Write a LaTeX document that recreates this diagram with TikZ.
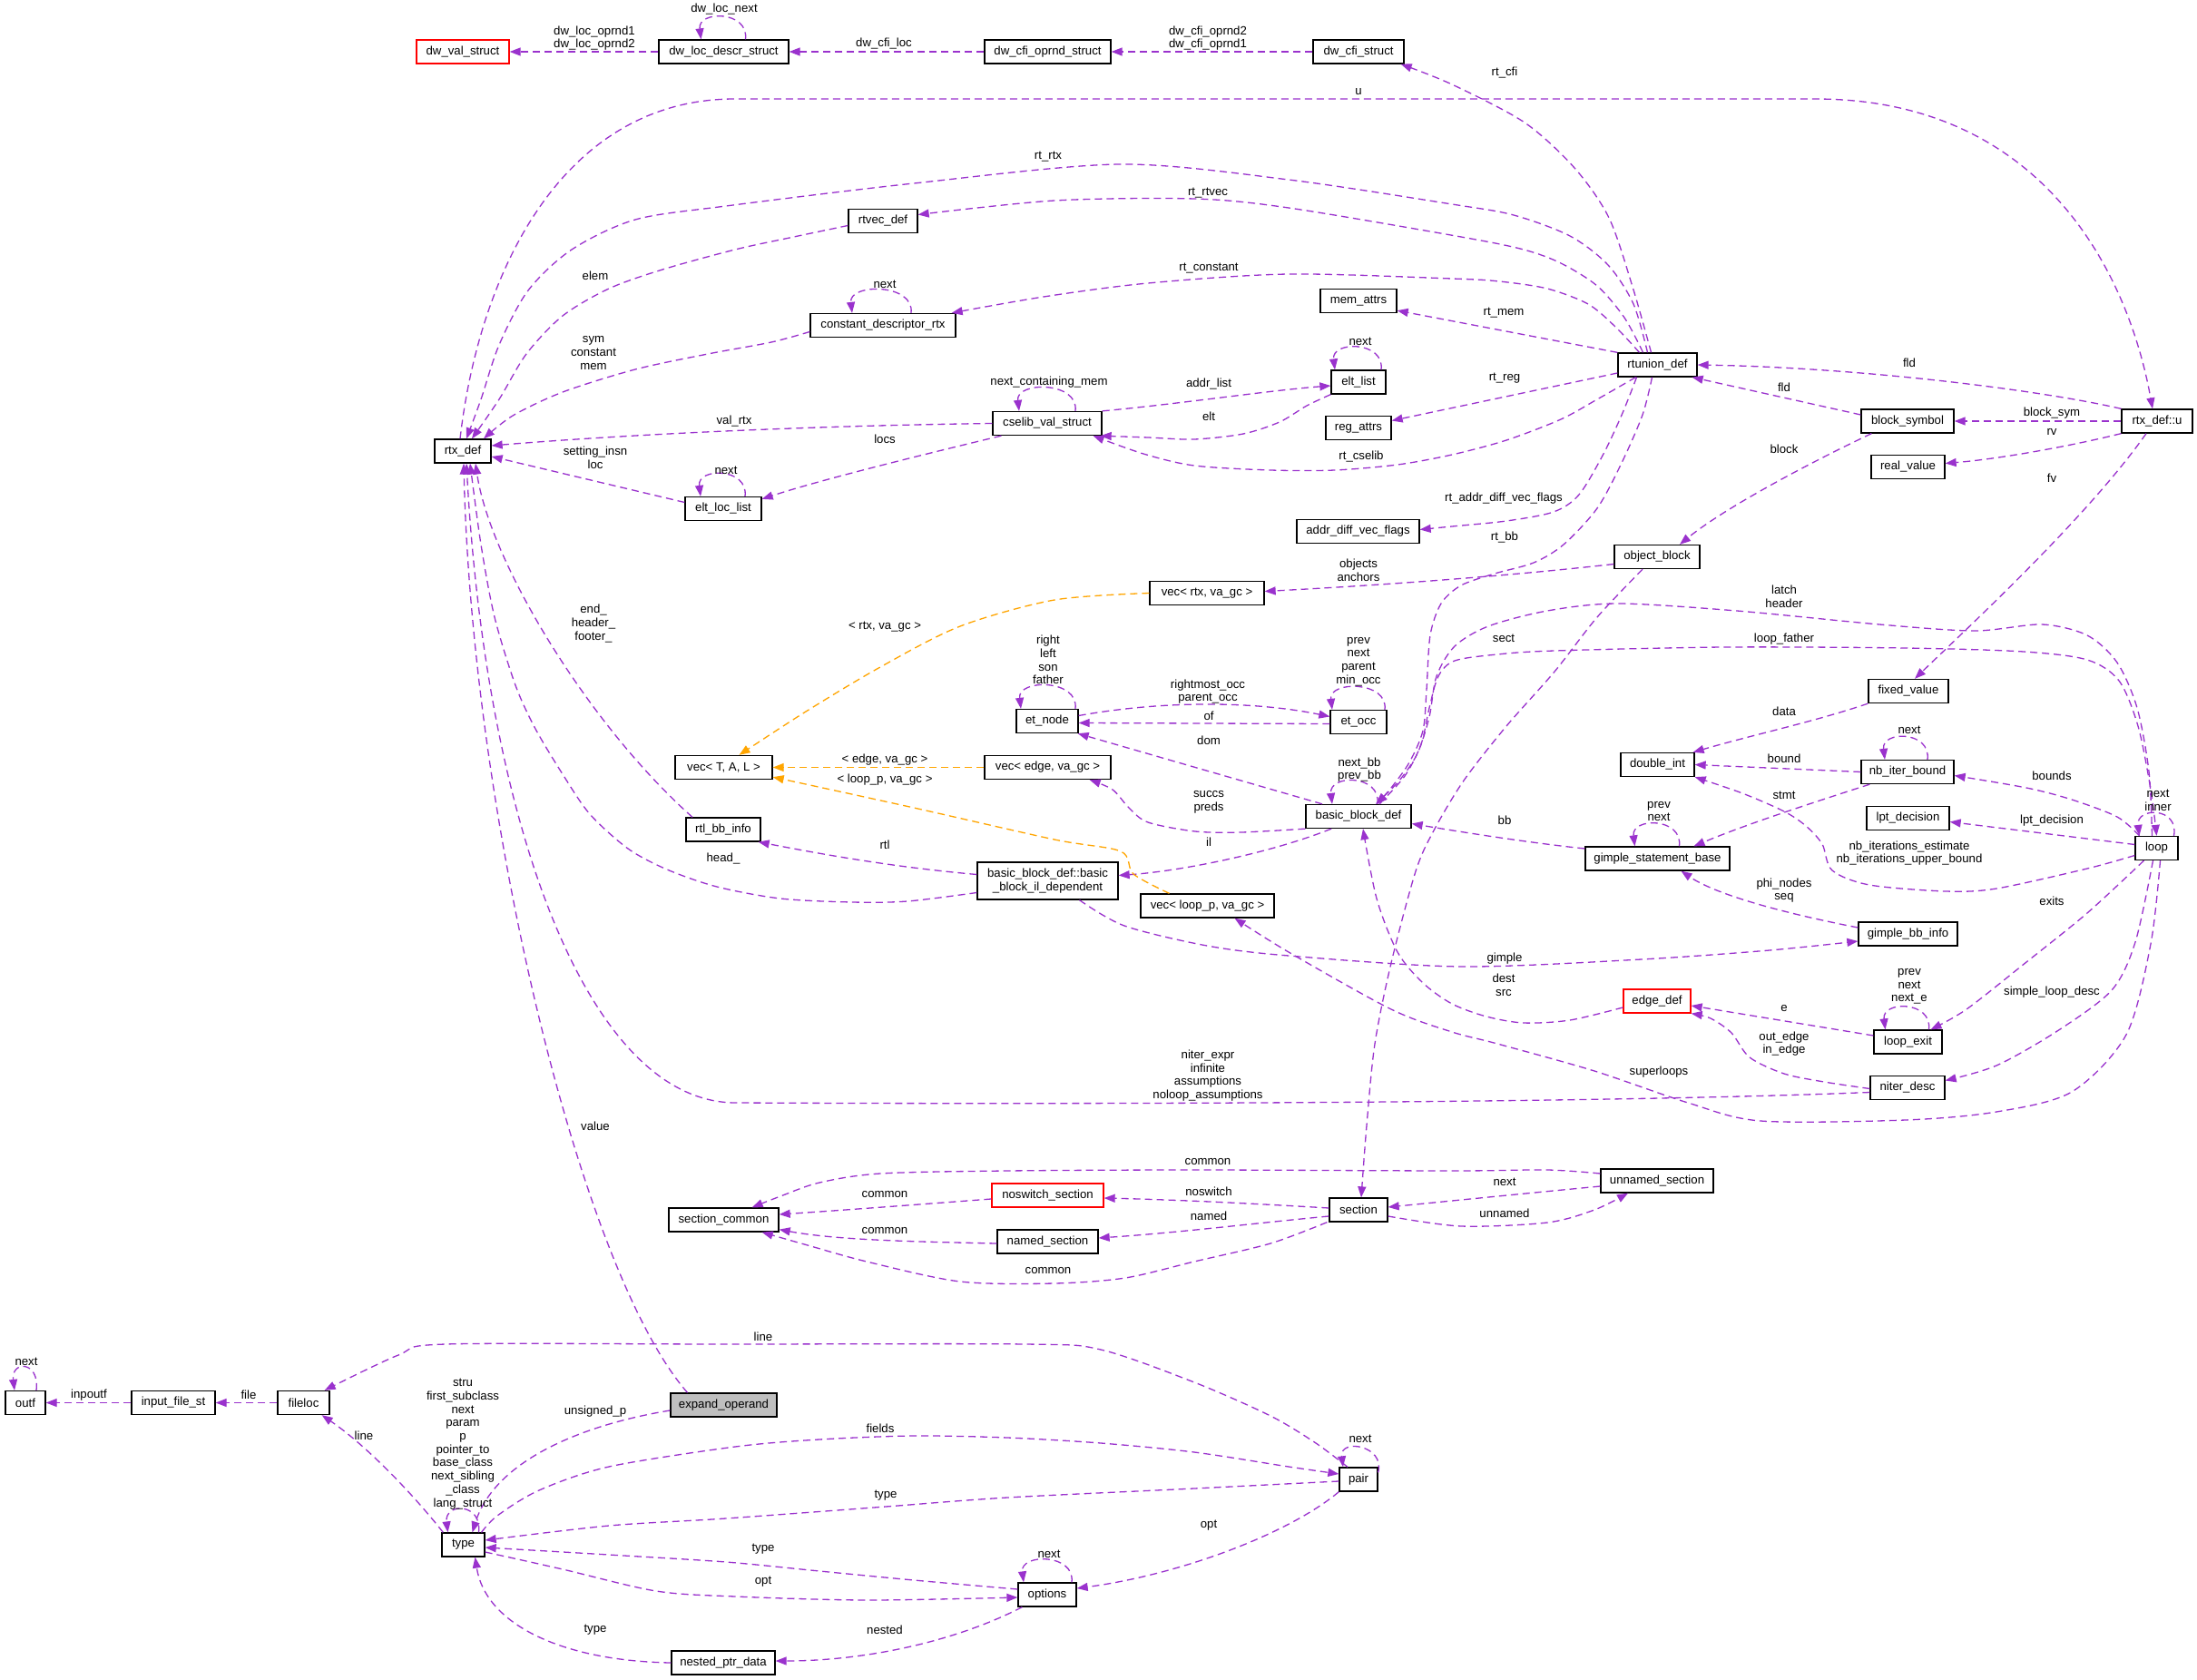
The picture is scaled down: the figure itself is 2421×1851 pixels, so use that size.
\documentclass[tikz,border=0pt]{standalone}
\usepackage{fontspec}
\setmainfont{Liberation Sans}
\usetikzlibrary{arrows.meta}
\definecolor{pc}{HTML}{9A32CD}
\definecolor{oc}{HTML}{FFA500}
\definecolor{gf}{HTML}{BFBFBF}
\begin{document}
\begin{tikzpicture}[x=1pt,y=-1pt,
  every node/.style={font=\fontsize{13.2}{14.7}\selectfont},
  nd/.style={draw=black, line width=1.3pt, fill=white, minimum height=26, inner xsep=2, inner ysep=0, align=center},
  rnd/.style={nd, draw=red},
  gnd/.style={nd, fill=gf},
  lbl/.style={inner sep=0, align=center},
  cn/.style={draw=pc, line width=1.3pt, dash pattern=on 8pt off 5pt, -{Triangle[length=12pt,width=9pt]}},
  tm/.style={cn, draw=oc}]
\useasboundingbox[fill=white] (0,0) rectangle (2421,1851);

% ---------------- nodes
\node[rnd, minimum width=102] (dwval) at (510,57) {dw\_val\_struct};
\node[nd, minimum width=143] (dwloc) at (797.5,57) {dw\_loc\_descr\_struct};
\node[nd, minimum width=139] (dwcfio) at (1154.5,57) {dw\_cfi\_oprnd\_struct};
\node[nd, minimum width=100] (dwcfis) at (1497,57) {dw\_cfi\_struct};
\node[nd, minimum width=62] (rtx) at (510,497) {rtx\_def};
\node[nd, minimum width=76] (rtvec) at (973,243.5) {rtvec\_def};
\node[nd, minimum width=160] (cdr) at (973,358.5) {constant\_descriptor\_rtx};
\node[nd, minimum width=84] (mem) at (1497,331.5) {mem\_attrs};
\node[nd, minimum width=60] (eltlist) at (1497,421) {elt\_list};
\node[nd, minimum width=120] (cselib) at (1154,466.5) {cselib\_val\_struct};
\node[nd, minimum width=72] (reg) at (1497,471.5) {reg\_attrs};
\node[nd, minimum width=84] (eltloc) at (797,560.5) {elt\_loc\_list};
\node[nd, minimum width=135] (addr) at (1496.5,585.5) {addr\_diff\_vec\_flags};
\node[nd, minimum width=87] (rtunion) at (1826.5,402) {rtunion\_def};
\node[nd, minimum width=102] (blocksym) at (2102,464) {block\_symbol};
\node[nd, minimum width=78] (rtxu) at (2377,464) {rtx\_def::u};
\node[nd, minimum width=81] (realv) at (2102.5,514.5) {real\_value};
\node[nd, minimum width=94] (objblock) at (1826,613.5) {object\_block};
\node[nd, minimum width=126] (vecrtx) at (1330,653.5) {vec< rtx, va\_gc >};
\node[nd, minimum width=68] (etnode) at (1154,794.5) {et\_node};
\node[nd, minimum width=62] (etocc) at (1497,795.5) {et\_occ};
\node[nd, minimum width=107] (vectal) at (797.5,845.5) {vec< T, A, L >};
\node[nd, minimum width=139] (vecedge) at (1154.5,845.5) {vec< edge, va\_gc >};
\node[nd, minimum width=116] (bbd) at (1497,899.5) {basic\_block\_def};
\node[nd, minimum width=82] (rtlbb) at (797,914) {rtl\_bb\_info};
\node[nd, minimum width=155, minimum height=41] (ild) at (1154.5,970.5) {basic\_block\_def::basic\\\_block\_il\_dependent};
\node[nd, minimum width=147] (vecloop) at (1330.5,998) {vec< loop\_p, va\_gc >};
\node[nd, minimum width=88] (fixed) at (2103,761.5) {fixed\_value};
\node[nd, minimum width=81] (dint) at (1826.5,842.5) {double\_int};
\node[nd, minimum width=102] (nib) at (2102,850.5) {nb\_iter\_bound};
\node[nd, minimum width=91] (lpt) at (2102.5,901.5) {lpt\_decision};
\node[nd, minimum width=47] (loop) at (2376.5,934.5) {loop};
\node[nd, minimum width=159] (gsb) at (1826.5,946) {gimple\_statement\_base};
\node[nd, minimum width=109] (gbbi) at (2102.5,1029) {gimple\_bb\_info};
\node[rnd, minimum width=74] (edgedef) at (1826,1103) {edge\_def};
\node[nd, minimum width=75] (loopexit) at (2102.5,1148) {loop\_exit};
\node[nd, minimum width=82] (niterd) at (2102,1198.5) {niter\_desc};
\node[nd, minimum width=121] (seccom) at (797.5,1344) {section\_common};
\node[rnd, minimum width=123] (noswitch) at (1154.5,1317) {noswitch\_section};
\node[nd, minimum width=111] (named) at (1154.5,1368) {named\_section};
\node[nd, minimum width=64] (section) at (1497,1333) {section};
\node[nd, minimum width=124] (unnamed) at (1826,1301) {unnamed\_section};
\node[gnd, minimum width=117] (expand) at (797.5,1548) {expand\_operand};
\node[nd, minimum width=44] (outf) at (28,1545.5) {outf};
\node[nd, minimum width=92] (inputf) at (191,1545.5) {input\_file\_st};
\node[nd, minimum width=57] (fileloc) at (334.5,1545.5) {fileloc};
\node[nd, minimum width=47] (type) at (510.5,1702) {type};
\node[nd, minimum width=42] (pair) at (1497,1630) {pair};
\node[nd, minimum width=64] (options) at (1154,1757) {options};
\node[nd, minimum width=114] (nested) at (797,1832) {nested\_ptr\_data};

% ---------------- top row
\draw[cn] (dwloc.west) -- (dwval.east);
\draw[cn] (dwcfio.west) -- (dwloc.east);
\draw[cn] (dwcfis.west) -- (dwcfio.east);
\draw[cn] ([xshift=24]dwloc.north) .. controls +(4,-32) and +(-4,-32) .. ([xshift=-25]dwloc.north);
\draw[cn] plot[smooth] coordinates {([xshift=-7]rtunion.north) (1799,316) (1773,240) (1735,185) (1680,135) (1600,93) ([xshift=-4]dwcfis.south east)};

% ---------------- rtx_def fan
\draw[cn] ([xshift=-3]rtx.north) .. controls (528,300) and (620,109) .. (810,109) -- (2000,109) .. controls (2250,109) and (2345,300) .. ([xshift=-5]rtxu.north);
\draw[cn] plot[smooth] coordinates {([xshift=-11]rtunion.north) (1800,335) (1772,292) (1730,260) (1668,237) (1600,225) (1420,198) (1234,181) (1007,202) (800,227) (700,242) (630,275) (582,320) (550,380) (530,440) ([xshift=4]rtx.north)};
\draw[cn] plot[smooth] coordinates {([xshift=-16]rtunion.north) (1790,350) (1760,315) (1720,290) (1679,275) (1610,261) (1420,229) (1316,219) (1162,221) ([yshift=7]rtvec.east)};
\draw[cn] plot[smooth] coordinates {([xshift=-20]rtunion.north) (1780,360) (1750,335) (1705,318) (1652,310) (1600,307) (1420,302) (1265,312) (1150,327) ([xshift=-5]cdr.north east)};
\draw[cn] plot[smooth] coordinates {([yshift=-5]rtvec.west) (870,262) (810,275) (730,297) (671,318) (620,348) (580,390) (550,440) ([xshift=10]rtx.north)};
\draw[cn] ([xshift=31]cdr.north) .. controls +(4,-33) and +(-4,-33) .. ([xshift=-34]cdr.north);
\draw[cn] plot[smooth] coordinates {([yshift=-7]cdr.west) (850,377) (780,390) (700,407) (620,432) (565,458) ([xshift=23]rtx.north)};
\draw[cn] (rtunion.north west) -- ([yshift=3]mem.south east);
\draw[cn] ([xshift=25]eltlist.north) .. controls +(4,-32) and +(-4,-32) .. ([xshift=-26]eltlist.north);
\draw[cn] (cselib.north east) .. controls (1300,445) and (1400,430) .. ([yshift=-4]eltlist.west);
\draw[cn] plot[smooth] coordinates {(eltlist.south west) (1440,447) (1410,465) (1370,478) (1316,484) (1265,482) ([xshift=-2]cselib.south east)};
\draw[cn] ([xshift=31]cselib.north) .. controls +(4,-33) and +(-4,-33) .. ([xshift=-31]cselib.north);
\draw[cn] (cselib.west) .. controls (900,469) and (700,478) .. ([yshift=6]rtx.east);
\draw[cn] ([yshift=-9]rtunion.west) -- ([yshift=8]reg.east);
\draw[cn] plot[smooth] coordinates {([xshift=-24]rtunion.south) (1760,440) (1720,462) (1660,485) (1600,501) (1540,512) (1471,518) (1400,518) (1316,513) (1260,500) ([xshift=-10]cselib.south east)};
\draw[cn] ([xshift=10]cselib.south west) .. controls (1000,505) and (900,530) .. ([yshift=-3]eltloc.north east);
\draw[cn] ([xshift=24]eltloc.north) .. controls +(4,-32) and +(-4,-32) .. ([xshift=-25]eltloc.north);
\draw[cn] ([yshift=7]eltloc.west) -- ([yshift=-6]rtx.east);
\draw[cn] plot[smooth] coordinates {([xshift=-23]rtunion.south) (1788,455) (1767,500) (1740,545) (1712,564) (1660,574) (1600,580) ([yshift=2]addr.east)};
\draw[cn] plot[smooth] coordinates {([xshift=-6]rtunion.south) (1810,457) (1787,510) (1760,560) (1723,600) (1690,620) (1647,632) (1610,645) (1588,665) (1576,700) (1572,760) (1568,805) (1553,840) (1533,868) ([xshift=20]bbd.north)};

% ---------------- rtx_def::u
\draw[cn] (rtxu.north west) .. controls (2250,430) and (2050,405) .. (rtunion.east);
\draw[cn] ([yshift=7]blocksym.west) -- ([xshift=-6]rtunion.south east);
\draw[cn] (rtxu.west) -- (blocksym.east);
\draw[cn] (rtxu.south west) .. controls (2280,492) and (2200,506) .. ([yshift=4]realv.east);
\draw[cn] ([xshift=-12]rtxu.south) .. controls (2300,570) and (2170,690) .. ([xshift=7]fixed.north);
\draw[cn] ([xshift=12]blocksym.south west) .. controls (1990,512) and (1900,560) .. ([xshift=25]objblock.north);
\draw[cn] ([yshift=-8]objblock.west) .. controls (1650,636) and (1500,646) .. ([yshift=2]vecrtx.east);
\draw[cn] plot[smooth] coordinates {([xshift=-16]objblock.south) (1760,680) (1713,740) (1660,800) (1613,860) (1580,915) (1560,960) (1533,1061) (1515,1150) (1506,1240) ([xshift=3]section.north)};

% ---------------- basic_block_def / loop
\draw[cn] plot[smooth] coordinates {([xshift=-5]loop.north) (2368,850) (2355,780) (2333,730) (2300,700) (2250,688) (2176,695) (2071,688) (1914,673) (1783,665) (1705,673) (1640,690) (1603,712) (1583,745) (1575,790) (1562,830) (1542,860) ([xshift=19]bbd.north)};
\draw[cn] plot[smooth] coordinates {([xshift=23]bbd.north) (1548,855) (1566,820) (1575,780) (1585,745) (1603,728) (1650,721) (1713,717) (1900,713) (2100,714) (2230,718) (2300,727) (2335,750) (2356,800) (2370,870) (loop.north)};
\draw[cn] ([yshift=11]gsb.west) .. controls (1680,928) and (1600,915) .. ([yshift=-8]bbd.east);
\draw[cn] plot[smooth] coordinates {([yshift=-7]edgedef.west) (1730,1124) (1679,1127) (1638,1120) (1600,1106) (1568,1083) (1540,1049) (1517,990) ([xshift=5]bbd.south)};
\draw[cn] ([xshift=-40]bbd.north) -- ([xshift=-1]etnode.south east);
\draw[cn] ([xshift=21]bbd.north) .. controls +(4,-33) and +(-4,-33) .. ([xshift=-29]bbd.north);
\draw[cn] plot[smooth] coordinates {(bbd.south west) (1368,917) (1317,916) (1265,906) (1244,890) (1226,870) ([xshift=-24]vecedge.south east)};
\draw[cn] ([xshift=-30]bbd.south) .. controls (1400,940) and (1300,960) .. ([yshift=6]ild.east);
\draw[cn] ([yshift=6]etnode.east) .. controls (1280,772) and (1380,772) .. ([yshift=6]etocc.west);
\draw[cn] ([yshift=-2]etocc.west) -- ([yshift=-2]etnode.east);
\draw[cn] ([xshift=31]etnode.north) .. controls +(4,-33) and +(-4,-33) .. ([xshift=-29]etnode.north);
\draw[cn] ([xshift=29]etocc.north) .. controls +(4,-32) and +(-4,-32) .. ([xshift=-29]etocc.north);

% templates
\draw[tm] plot[smooth] coordinates {(vecrtx.west) (1162,661) (1058,690) (970,735) (888,784) ([xshift=17]vectal.north)};
\draw[tm] (vecedge.west) -- (vectal.east);
\draw[tm] plot[smooth] coordinates {([xshift=-42]vecloop.north) (1249,963) (1235,938) (1162,925) (1007,890) ([yshift=3]vectal.south east)};

% il_dependent and rtx bottom
\draw[cn] ([yshift=7]ild.west) .. controls (980,955) and (900,940) .. ([xshift=-3]rtlbb.south east);
\draw[cn] ([xshift=-34]rtlbb.north) .. controls (650,800) and (540,620) .. ([xshift=14]rtx.south);
\draw[cn] plot[smooth] coordinates {([yshift=-13]ild.west) (1000,993) (939,994) (860,990) (790,977) (735,958) (692,935) (650,897) (620,853) (590,803) (568,755) (545,680) (530,600) ([xshift=8]rtx.south)};
\draw[cn] ([yshift=-5]niterd.west) .. controls (1700,1218) and (1000,1216) .. (810,1215) .. controls (645,1214) and (535,900) .. ([xshift=4]rtx.south);
\draw[cn] ([xshift=-40]expand.north) .. controls (640,1400) and (520,900) .. ([xshift=1]rtx.south);
\draw[cn] plot[smooth] coordinates {([xshift=35]ild.south) (1239,1020) (1330,1042) (1420,1053) (1610,1065) (1809,1057) (1950,1047) ([yshift=-8]gbbi.west)};

% gimple / loop right side
\draw[cn] ([yshift=7]gbbi.west) .. controls (1960,1005) and (1890,985) .. ([xshift=26]gsb.south);
\draw[cn] ([xshift=24]gsb.north) .. controls +(4,-32) and +(-4,-32) .. ([xshift=-25]gsb.north);
\draw[cn] ([xshift=10]nib.south west) .. controls (1980,890) and (1920,910) .. ([xshift=40]gsb.north);
\draw[cn] (fixed.south west) .. controls (2000,795) and (1930,810) .. ([xshift=-2]dint.north east);
\draw[cn] (nib.west) -- (dint.east);
\draw[cn] ([xshift=22]nib.north) .. controls +(4,-32) and +(-4,-32) .. ([xshift=-25]nib.north);
\draw[cn] plot[smooth] coordinates {([xshift=-19]loop.north) (2333,900) (2283,881) (2233,868) ([yshift=-4]nib.east)};
\draw[cn] ([yshift=4]loop.west) -- ([yshift=-4]lpt.east);
\draw[cn] plot[smooth] coordinates {([yshift=-8]loop.west) (2300,957) (2200,979) (2144,982) (2060,975) (2019,959) (2008,930) (1990,910) (1966,894) (1920,874) (dint.south east)};
\draw[cn] ([xshift=19]loop.north) .. controls +(6,-32) and +(-4,-32) .. ([xshift=-19]loop.north);
\draw[cn] plot[smooth] coordinates {([xshift=-14]loop.south) (2300,1006) (2233,1060) (2167,1112) ([xshift=25]loopexit.north)};
\draw[cn] plot[smooth] coordinates {([xshift=-4]loop.south) (2353,1038) (2327,1091) (2267,1136) (2200,1174) ([yshift=8]niterd.east)};
\draw[cn] plot[smooth] coordinates {([xshift=4]loop.south) (2370,1040) (2343,1140) (2283,1203) (2200,1225) (2100,1234) (1940,1235) (1860,1215) (1757,1180) (1650,1150) (1600,1137) (1533,1112) (1420,1049) ([xshift=30]vecloop.south)};
\draw[cn] ([xshift=23]loopexit.north) .. controls +(4,-32) and +(-4,-32) .. ([xshift=-25]loopexit.north);
\draw[cn] ([yshift=7]loopexit.west) -- ([yshift=-5]edgedef.east);
\draw[cn] plot[smooth] coordinates {([yshift=-1]niterd.west) (2010,1192) (1966,1183) (1928,1165) (1908,1138) (1885,1122) (edgedef.south east)};

% sections
\draw[cn] ([yshift=2]section.west) .. controls (1380,1326) and (1300,1322) .. ([yshift=-3]noswitch.east);
\draw[cn] ([yshift=-7]section.west) .. controls (1380,1348) and (1300,1358) .. ([yshift=4]named.east);
\draw[cn] plot[smooth] coordinates {([xshift=-2]section.south west) (1400,1370) (1316,1390) (1240,1408) (1162,1414) (1058,1412) (955,1390) (890,1372) ([xshift=-19]seccom.south east)};
\draw[cn] ([yshift=-2]named.west) .. controls (1000,1368) and (920,1366) .. ([yshift=3]seccom.south east);
\draw[cn] ([yshift=-4]noswitch.west) .. controls (1000,1328) and (920,1334) .. ([yshift=6]seccom.east);
\draw[cn] plot[smooth] coordinates {([yshift=-7]section.east) (1610,1351) (1705,1347) (1757,1333) ([xshift=-32]unnamed.south)};
\draw[cn] ([yshift=-6]unnamed.west) .. controls (1680,1315) and (1600,1323) .. ([yshift=3]section.east);
\draw[cn] plot[smooth] coordinates {([yshift=8]unnamed.west) (1705,1289) (1600,1290) (1316,1289) (1110,1290) (970,1293) (903,1303) (860,1318) ([xshift=-30]seccom.north east)};

% bottom
\draw[cn] plot[smooth] coordinates {([xshift=-12]pair.north) (1450,1590) (1400,1560) (1316,1523) (1213,1487) (1130,1481) (800,1481) (491,1481) (439,1493) ([xshift=-6]fileloc.north east)};
\draw[cn] plot[smooth] coordinates {([xshift=20]type.north) (548,1670) (594,1642) (671,1616) (810,1594) (903,1586) (1007,1582) (1110,1584) (1213,1590) (1316,1600) (1420,1616) ([yshift=6]pair.west)};
\draw[cn] plot[smooth] coordinates {([yshift=-2]pair.west) (1316,1640) (1110,1650) (976,1660) (800,1673) (671,1681) ([yshift=5]type.east)};
\draw[cn] plot[smooth] coordinates {([yshift=6]options.west) (1007,1741) (903,1731) (800,1721) (671,1713) ([yshift=-3]type.east)};
\draw[cn] plot[smooth] coordinates {([yshift=-8]type.east) (620,1729) (723,1753) (810,1759) (955,1763) ([yshift=-3]options.west)};
\draw[cn] ([xshift=27]options.north) .. controls +(4,-32) and +(-4,-32) .. ([xshift=-26]options.north);
\draw[cn] (pair.south west) .. controls (1420,1690) and (1300,1735) .. ([yshift=7]options.east);
\draw[cn] ([yshift=-6]pair.north east) .. controls +(8,-30) and +(-4,-32) .. ([xshift=-17]pair.north);
\draw[cn] ([xshift=5]options.south west) .. controls (1050,1810) and (950,1830) .. ([yshift=2]nested.east);
\draw[cn] (nested.west) .. controls (620,1830) and (535,1790) .. ([xshift=13]type.south);
\draw[cn] ([xshift=2]type.north west) .. controls (450,1640) and (400,1590) .. ([xshift=-9]fileloc.south east);
\draw[cn] ([xshift=17]type.north) .. controls +(4,-33) and +(-4,-33) .. ([xshift=-17]type.north);
\draw[cn] ([yshift=-6]expand.west) .. controls (640,1570) and (545,1610) .. ([xshift=10]type.north);
\draw[cn] (fileloc.west) -- (inputf.east);
\draw[cn] (inputf.west) -- (outf.east);
\draw[cn] ([xshift=12]outf.north) .. controls +(4,-33) and +(-4,-33) .. ([xshift=-12]outf.north);

% ---------------- labels
\node[lbl] (l1) at (655,42) {dw\_loc\_oprnd1\\dw\_loc\_oprnd2};
\node[lbl] (l2) at (798,10) {dw\_loc\_next};
\node[lbl] (l3) at (974,48) {dw\_cfi\_loc};
\node[lbl] (l4) at (1331,42) {dw\_cfi\_oprnd2\\dw\_cfi\_oprnd1};
\node[lbl] (l5) at (1658,80) {rt\_cfi};
\node[lbl] (l6) at (1497,101) {u};
\node[lbl] (l7) at (1155,173) {rt\_rtx};
\node[lbl] (l8) at (1331,213) {rt\_rtvec};
\node[lbl] (l9) at (656,304) {elem};
\node[lbl] (l10) at (1332,296) {rt\_constant};
\node[lbl] (l11) at (975,313) {next};
\node[lbl] (l12) at (654,389) {sym\\constant\\mem};
\node[lbl] (l13) at (1657,345) {rt\_mem};
\node[lbl] (l14) at (1499,376) {next};
\node[lbl] (l15) at (1156,421) {next\_containing\_mem};
\node[lbl] (l16) at (1332,423) {addr\_list};
\node[lbl] (l17) at (1332,459) {elt};
\node[lbl] (l18) at (809,464) {val\_rtx};
\node[lbl] (l19) at (1658,417) {rt\_reg};
\node[lbl] (l20) at (1500,503) {rt\_cselib};
\node[lbl] (l21) at (975,484) {locs};
\node[lbl] (l22) at (800,518) {next};
\node[lbl] (l23) at (656,504) {setting\_insn\\loc};
\node[lbl] (l24) at (1657,549) {rt\_addr\_diff\_vec\_flags};
\node[lbl] (l25) at (1658,592) {rt\_bb};
\node[lbl] (l26) at (2104,400) {fld};
\node[lbl] (l27) at (1966,427) {fld};
\node[lbl] (l28) at (2261,455) {block\_sym};
\node[lbl] (l29) at (2261,476) {rv};
\node[lbl] (l30) at (2261,527) {fv};
\node[lbl] (l31) at (1966,495) {block};
\node[lbl] (l32) at (1497,628) {objects\\anchors};
\node[lbl] (l33) at (975,691) {< rtx, va\_gc >};
\node[lbl] (l34) at (1155,727) {right\\left\\son\\father};
\node[lbl] (l35) at (1497,729) {prev\\next\\parent\\min\_occ};
\node[lbl] (l36) at (1331,762) {rightmost\_occ\\parent\_occ};
\node[lbl] (l37) at (1332,789) {of};
\node[lbl] (l38) at (1332,816) {dom};
\node[lbl] (l39) at (975,837) {< edge, va\_gc >};
\node[lbl] (l40) at (975,859) {< loop\_p, va\_gc >};
\node[lbl] (l41) at (1498,848) {next\_bb\\prev\_bb};
\node[lbl] (l42) at (1332,884) {succs\\preds};
\node[lbl] (l43) at (1332,928) {il};
\node[lbl] (l44) at (975,931) {rtl};
\node[lbl] (l45) at (654,687) {end\_\\header\_\\footer\_};
\node[lbl] (l46) at (797,946) {head\_};
\node[lbl] (l47) at (1966,657) {latch\\header};
\node[lbl] (l48) at (1657,703) {sect};
\node[lbl] (l49) at (1966,704) {loop\_father};
\node[lbl] (l50) at (1966,784) {data};
\node[lbl] (l51) at (1966,836) {bound};
\node[lbl] (l52) at (2104,804) {next};
\node[lbl] (l53) at (2261,855) {bounds};
\node[lbl] (l54) at (1966,876) {stmt};
\node[lbl] (l55) at (2261,904) {lpt\_decision};
\node[lbl] (l56) at (2378,882) {next\\inner};
\node[lbl] (l57) at (1658,904) {bb};
\node[lbl] (l58) at (1828,894) {prev\\next};
\node[lbl] (l59) at (2104,940) {nb\_iterations\_estimate\\nb\_iterations\_upper\_bound};
\node[lbl] (l60) at (1966,981) {phi\_nodes\\seq};
\node[lbl] (l61) at (2261,993) {exits};
\node[lbl] (l62) at (1658,1056) {gimple};
\node[lbl] (l63) at (1657,1085) {dest\\src};
\node[lbl] (l64) at (1966,1111) {e};
\node[lbl] (l65) at (2104,1087) {prev\\next\\next\_e};
\node[lbl] (l66) at (2261,1093) {simple\_loop\_desc};
\node[lbl] (l67) at (1966,1150) {out\_edge\\in\_edge};
\node[lbl] (l68) at (1828,1181) {superloops};
\node[lbl] (l69) at (1331,1185) {niter\_expr\\infinite\\assumptions\\noloop\_assumptions};
\node[lbl] (l70) at (656,1241) {value};
\node[lbl] (l71) at (1331,1280) {common};
\node[lbl] (l72) at (1332,1313) {noswitch};
\node[lbl] (l73) at (975,1316) {common};
\node[lbl] (l74) at (1658,1302) {next};
\node[lbl] (l75) at (1332,1340) {named};
\node[lbl] (l76) at (1658,1337) {unnamed};
\node[lbl] (l77) at (975,1356) {common};
\node[lbl] (l78) at (1155,1400) {common};
\node[lbl] (l79) at (841,1473) {line};
\node[lbl] (l80) at (29,1500) {next};
\node[lbl] (l81) at (98,1537) {inpoutf};
\node[lbl] (l82) at (274,1537) {file};
\node[lbl] (l83) at (401,1582) {line};
\node[lbl] (l84) at (510,1591) {stru\\first\_subclass\\next\\param\\p\\pointer\_to\\base\_class\\next\_sibling\\\_class\\lang\_struct};
\node[lbl] (l85) at (656,1555) {unsigned\_p};
\node[lbl] (l86) at (970,1574) {fields};
\node[lbl] (l87) at (1499,1585) {next};
\node[lbl] (l88) at (976,1648) {type};
\node[lbl] (l89) at (1332,1681) {opt};
\node[lbl] (l90) at (841,1707) {type};
\node[lbl] (l91) at (1156,1712) {next};
\node[lbl] (l92) at (841,1743) {opt};
\node[lbl] (l93) at (975,1796) {nested};
\node[lbl] (l94) at (656,1796) {type};
\end{tikzpicture}
\end{document}
